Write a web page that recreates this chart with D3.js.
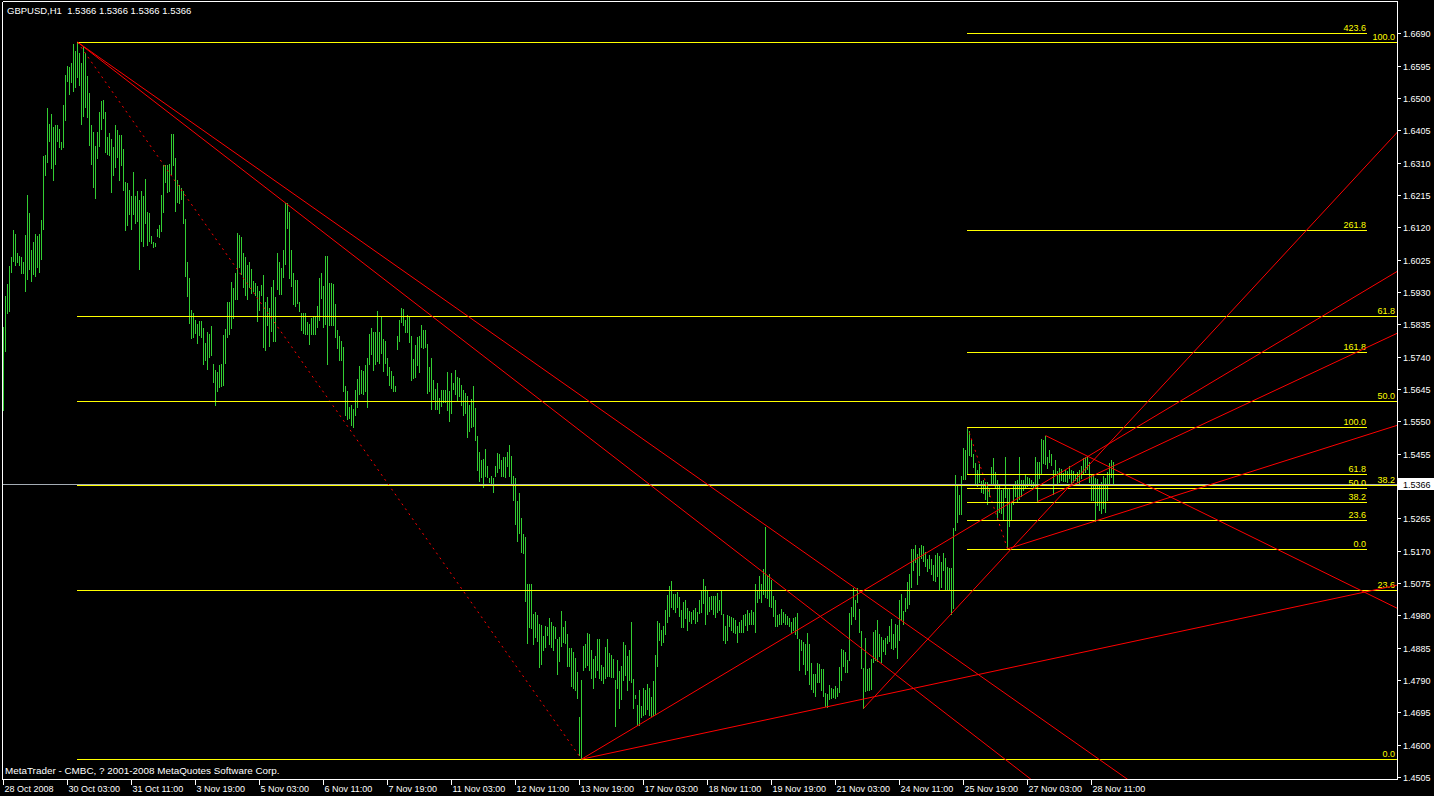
<!DOCTYPE html>
<html><head><meta charset="utf-8">
<script src="https://cdn.jsdelivr.net/npm/d3@7"></script>
<style>html,body{margin:0;padding:0;background:#000;overflow:hidden}</style>
</head><body>
<svg id="c" width="1434" height="796"></svg>
<script>
const symbolTitle = "GBPUSD,H1  1.5366 1.5366 1.5366 1.5366";
const footerText = "MetaTrader - CMBC, ? 2001-2008 MetaQuotes Software Corp.";
const lastPrice = 1.5366;

const highs = [1.5827,1.5918,1.5953,1.6006,1.6033,1.6112,1.6100,1.6045,1.6036,1.6033,1.6018,1.6097,1.6215,1.6162,1.6053,1.6077,1.6100,1.6095,1.6100,1.6142,
1.6330,1.6333,1.6471,1.6424,1.6453,1.6415,1.6421,1.6421,1.6409,1.6371,1.6479,1.6568,1.6594,1.6591,1.6603,1.6660,1.6638,1.6664,1.6632,1.6603,
1.6650,1.6632,1.6565,1.6515,1.6421,1.6400,1.6359,1.6400,1.6459,1.6491,1.6494,1.6459,1.6385,1.6397,1.6380,1.6356,1.6421,1.6406,1.6391,1.6391,
1.6350,1.6253,1.6250,1.6230,1.6212,1.6283,1.6212,1.6227,1.6200,1.6227,1.6212,1.6262,1.6165,1.6162,1.6095,1.6077,1.6074,1.6115,1.6127,1.6215,
1.6303,1.6303,1.6303,1.6306,1.6394,1.6394,1.6324,1.6259,1.6244,1.6236,1.6227,1.6145,1.6018,1.5971,1.5877,1.5868,1.5848,1.5836,1.5845,1.5845,
1.5824,1.5780,1.5812,1.5806,1.5830,1.5718,1.5701,1.5695,1.5715,1.5718,1.5804,1.5821,1.5901,1.5901,1.5959,1.5942,1.5986,1.6103,1.6097,1.6092,
1.6045,1.6033,1.6009,1.6018,1.5998,1.5962,1.5956,1.5948,1.5933,1.5950,1.5980,1.5901,1.5915,1.5883,1.5945,1.5965,1.5915,1.6045,1.6018,1.6001,
1.6052,1.6192,1.6190,1.6165,1.6052,1.5987,1.5965,1.5965,1.5901,1.5868,1.5868,1.5868,1.5843,1.5836,1.5853,1.5858,1.5858,1.5890,1.5971,1.5986,
1.5948,1.6036,1.6036,1.5955,1.5955,1.5953,1.5895,1.5817,1.5802,1.5787,1.5768,1.5654,1.5639,1.5593,1.5598,1.5586,1.5642,1.5675,1.5711,1.5701,
1.5698,1.5714,1.5737,1.5806,1.5824,1.5811,1.5811,1.5873,1.5811,1.5856,1.5792,1.5787,1.5737,1.5709,1.5698,1.5683,1.5654,1.5800,1.5849,1.5882,
1.5880,1.5849,1.5862,1.5858,1.5800,1.5733,1.5774,1.5798,1.5802,1.5833,1.5819,1.5817,1.5778,1.5709,1.5737,1.5672,1.5645,1.5663,1.5618,1.5642,
1.5642,1.5642,1.5695,1.5640,1.5692,1.5663,1.5701,1.5681,1.5677,1.5657,1.5642,1.5632,1.5623,1.5598,1.5614,1.5654,1.5589,1.5507,1.5461,1.5436,
1.5440,1.5469,1.5420,1.5384,1.5388,1.5384,1.5420,1.5457,1.5453,1.5436,1.5444,1.5444,1.5461,1.5480,1.5448,1.5388,1.5384,1.5315,1.5339,1.5267,
1.5218,1.5211,1.5073,1.5073,1.5073,1.4985,1.4990,1.4981,1.4955,1.4950,1.4918,1.4948,1.4944,1.4972,1.4961,1.4948,1.4944,1.4911,1.4916,1.4993,
1.4946,1.4963,1.4924,1.4885,1.4883,1.4871,1.4855,1.4814,1.4681,1.4790,1.4889,1.4895,1.4928,1.4926,1.4877,1.4852,1.4861,1.4910,1.4910,1.4834,
1.4828,1.4887,1.4910,1.4869,1.4863,1.4851,1.4791,1.4849,1.4816,1.4830,1.4900,1.4893,1.4859,1.4877,1.4961,1.4793,1.4746,1.4716,1.4761,1.4714,
1.4767,1.4761,1.4777,1.4765,1.4740,1.4787,1.4863,1.4963,1.4957,1.4936,1.4949,1.4995,1.5039,1.5065,1.5081,1.5043,1.5043,1.5047,1.5034,1.4995,
1.5020,1.5026,1.5002,1.4993,1.4991,1.4995,1.5002,1.4991,1.5024,1.5051,1.5087,1.5065,1.5053,1.5034,1.5036,1.5036,1.5038,1.5045,1.5026,1.5055,
1.4983,1.4948,1.4981,1.4979,1.4975,1.4973,1.4965,1.4948,1.4959,1.4965,1.4981,1.4985,1.4995,1.4987,1.4995,1.4991,1.5071,1.5051,1.5094,1.5071,
1.5116,1.5239,1.5096,1.5100,1.5083,1.5036,1.5024,1.4981,1.4985,1.4998,1.4989,1.4983,1.4977,1.4973,1.4961,1.4973,1.4975,1.4987,1.4910,1.4906,
1.4900,1.4895,1.4928,1.4896,1.4840,1.4807,1.4807,1.4840,1.4836,1.4822,1.4822,1.4752,1.4748,1.4775,1.4767,1.4763,1.4771,1.4767,1.4828,1.4881,
1.4879,1.4871,1.4848,1.4987,1.5004,1.5059,1.5026,1.5059,1.4998,1.4934,1.4824,1.4914,1.4822,1.4824,1.4851,1.4930,1.4936,1.4965,1.4926,1.4916,
1.4906,1.4912,1.4920,1.4948,1.4969,1.4926,1.4955,1.4951,1.5026,1.5043,1.4993,1.5030,1.5077,1.5102,1.5175,1.5175,1.5186,1.5159,1.5178,1.5186,
1.5183,1.5165,1.5145,1.5157,1.5145,1.5128,1.5157,1.5163,1.5153,1.5136,1.5163,1.5149,1.5122,1.5120,1.5118,1.5237,1.5392,1.5366,1.5333,1.5388,
1.5471,1.5466,1.5533,1.5522,1.5494,1.5455,1.5427,1.5408,1.5423,1.5374,1.5376,1.5372,1.5371,1.5355,1.5416,1.5443,1.5400,1.5376,1.5359,1.5347,
1.5353,1.5445,1.5351,1.5355,1.5312,1.5367,1.5375,1.5376,1.5445,1.5376,1.5378,1.5392,1.5386,1.5382,1.5378,1.5372,1.5445,1.5431,1.5429,1.5498,
1.5496,1.5508,1.5445,1.5466,1.5453,1.5408,1.5435,1.5404,1.5412,1.5410,1.5398,1.5406,1.5404,1.5418,1.5408,1.5404,1.5396,1.5400,1.5406,1.5420,
1.5441,1.5445,1.5449,1.5429,1.5396,1.5392,1.5382,1.5380,1.5365,1.5371,1.5388,1.5382,1.5402,1.5427,1.5435,1.5429];

const lows = [1.5583,1.5757,1.5868,1.5874,1.5989,1.6021,1.6009,1.6018,1.6009,1.5986,1.5986,1.5933,1.5968,1.5998,1.5962,1.5983,1.5977,1.6003,1.5989,1.6027,
1.6115,1.6274,1.6312,1.6374,1.6294,1.6259,1.6306,1.6374,1.6356,1.6350,1.6356,1.6435,1.6550,1.6512,1.6547,1.6521,1.6532,1.6562,1.6538,1.6424,
1.6447,1.6474,1.6444,1.6362,1.6306,1.6238,1.6206,1.6324,1.6359,1.6409,1.6441,1.6341,1.6335,1.6333,1.6224,1.6274,1.6297,1.6327,1.6259,1.6303,
1.6230,1.6112,1.6127,1.6159,1.6115,1.6159,1.6133,1.6139,1.5998,1.6080,1.6065,1.6133,1.6068,1.6080,1.6074,1.6062,1.6065,1.6095,1.6092,1.6109,
1.6165,1.6253,1.6224,1.6227,1.6277,1.6303,1.6168,1.6194,1.6192,1.6203,1.6133,1.5977,1.5918,1.5839,1.5795,1.5798,1.5809,1.5780,1.5804,1.5798,
1.5718,1.5730,1.5704,1.5739,1.5745,1.5665,1.5598,1.5639,1.5651,1.5654,1.5657,1.5721,1.5798,1.5806,1.5824,1.5853,1.5909,1.5909,1.6003,1.5983,
1.5945,1.5921,1.5909,1.5945,1.5927,1.5933,1.5921,1.5845,1.5877,1.5921,1.5768,1.5760,1.5833,1.5771,1.5815,1.5786,1.5786,1.5939,1.5924,1.5923,
1.5974,1.6012,1.6118,1.5972,1.5948,1.5895,1.5889,1.5898,1.5874,1.5818,1.5809,1.5806,1.5806,1.5777,1.5806,1.5806,1.5806,1.5826,1.5848,1.5912,
1.5826,1.5836,1.5718,1.5834,1.5834,1.5834,1.5798,1.5765,1.5730,1.5730,1.5640,1.5567,1.5557,1.5561,1.5539,1.5533,1.5569,1.5593,1.5630,1.5632,
1.5630,1.5638,1.5593,1.5718,1.5748,1.5701,1.5718,1.5727,1.5722,1.5751,1.5698,1.5722,1.5687,1.5657,1.5647,1.5638,1.5640,1.5761,1.5787,1.5843,
1.5834,1.5811,1.5812,1.5783,1.5672,1.5677,1.5681,1.5715,1.5695,1.5769,1.5765,1.5767,1.5632,1.5638,1.5586,1.5614,1.5586,1.5586,1.5573,1.5595,
1.5608,1.5606,1.5584,1.5552,1.5573,1.5645,1.5630,1.5610,1.5625,1.5599,1.5567,1.5573,1.5504,1.5522,1.5532,1.5535,1.5494,1.5407,1.5375,1.5386,
1.5356,1.5388,1.5386,1.5371,1.5364,1.5343,1.5388,1.5401,1.5414,1.5388,1.5390,1.5386,1.5418,1.5388,1.5364,1.5319,1.5248,1.5198,1.5222,1.5166,
1.5164,1.5022,1.4897,1.4944,1.4942,1.4895,1.4916,1.4903,1.4828,1.4837,1.4879,1.4888,1.4922,1.4895,1.4888,1.4879,1.4914,1.4808,1.4846,1.4891,
1.4901,1.4898,1.4832,1.4832,1.4771,1.4767,1.4761,1.4736,1.4569,1.4557,1.4820,1.4828,1.4834,1.4820,1.4797,1.4767,1.4799,1.4818,1.4797,1.4789,
1.4781,1.4797,1.4801,1.4801,1.4799,1.4799,1.4655,1.4767,1.4708,1.4734,1.4791,1.4804,1.4759,1.4789,1.4783,1.4708,1.4736,1.4657,1.4657,1.4681,
1.4687,1.4689,1.4705,1.4687,1.4683,1.4687,1.4689,1.4830,1.4908,1.4893,1.4900,1.4926,1.4959,1.4979,1.5004,1.4998,1.4991,1.5004,1.4979,1.4946,
1.4946,1.4973,1.4936,1.4963,1.4957,1.4969,1.4957,1.4963,1.4987,1.4989,1.5016,1.4955,1.4985,1.4993,1.4998,1.4983,1.4975,1.4989,1.4995,1.4983,
1.4908,1.4898,1.4906,1.4948,1.4936,1.4932,1.4928,1.4900,1.4932,1.4932,1.4930,1.4951,1.4936,1.4953,1.4953,1.4955,1.4932,1.5020,1.5030,1.5018,
1.5041,1.5034,1.5030,1.5008,1.5004,1.4977,1.4948,1.4949,1.4953,1.4955,1.4959,1.4953,1.4955,1.4949,1.4930,1.4936,1.4924,1.4912,1.4820,1.4877,
1.4838,1.4806,1.4818,1.4779,1.4763,1.4754,1.4744,1.4783,1.4783,1.4760,1.4744,1.4712,1.4710,1.4734,1.4736,1.4740,1.4736,1.4744,1.4754,1.4791,
1.4832,1.4812,1.4814,1.4848,1.4955,1.4979,1.4969,1.5018,1.4932,1.4824,1.4706,1.4757,1.4761,1.4761,1.4763,1.4842,1.4849,1.4846,1.4859,1.4844,
1.4875,1.4865,1.4899,1.4904,1.4885,1.4881,1.4887,1.4855,1.4906,1.4967,1.4955,1.4993,1.5002,1.5014,1.5063,1.5114,1.5137,1.5073,1.5098,1.5147,
1.5139,1.5124,1.5110,1.5118,1.5102,1.5083,1.5081,1.5096,1.5057,1.5063,1.5112,1.5055,1.5055,1.5055,1.4983,1.5002,1.5231,1.5253,1.5278,1.5277,
1.5380,1.5380,1.5394,1.5451,1.5447,1.5416,1.5367,1.5361,1.5371,1.5341,1.5339,1.5322,1.5306,1.5330,1.5363,1.5369,1.5353,1.5261,1.5282,1.5281,
1.5259,1.5326,1.5175,1.5241,1.5261,1.5306,1.5330,1.5316,1.5322,1.5331,1.5349,1.5355,1.5361,1.5365,1.5359,1.5355,1.5359,1.5314,1.5384,1.5398,
1.5427,1.5424,1.5414,1.5429,1.5422,1.5337,1.5394,1.5365,1.5372,1.5376,1.5374,1.5374,1.5371,1.5382,1.5369,1.5372,1.5378,1.5372,1.5369,1.5382,
1.5394,1.5402,1.5410,1.5371,1.5320,1.5318,1.5257,1.5304,1.5288,1.5281,1.5294,1.5284,1.5320,1.5369,1.5386,1.5366];

const timeLabels = ["28 Oct 2008","30 Oct 03:00","31 Oct 11:00","3 Nov 19:00","5 Nov 03:00","6 Nov 11:00","7 Nov 19:00","11 Nov 03:00","12 Nov 11:00","13 Nov 19:00","17 Nov 03:00","18 Nov 11:00","19 Nov 19:00","21 Nov 03:00","24 Nov 11:00","25 Nov 19:00","27 Nov 03:00","28 Nov 11:00"];
const timeLabelBars = [0,32,64,96,128,160,192,224,256,288,320,352,384,416,448,480,512,544];
const priceTicks = [1.6690,1.6595,1.6500,1.6405,1.6310,1.6215,1.6120,1.6025,1.5930,1.5835,1.5740,1.5645,1.5550,1.5455,1.5265,1.5170,1.5075,1.4980,1.4885,1.4790,1.4695,1.4600,1.4505];

// Fibonacci retracement objects: anchor 1 (100 level), anchor 2 (0 level)
const bigFibA = [37, 1.6664], bigFibB = [289, 1.4557];
const bigFibLevels = [0, 23.6, 38.2, 50, 61.8, 100];
const smallFibA = [482, 1.5533], smallFibB = [502, 1.5175];
const smallFibLevels = [0, 23.6, 38.2, 50, 61.8, 100, 161.8, 261.8, 423.6];
const smallFibEndBar = 681.5;

// Trend lines (rays): [bar, price] -> [bar, price]
const trendStarts = [[37,1.6664],[37,1.6664],[289,1.4557],[289,1.4557],[430,1.4706],[517,1.5314],[502,1.5175],[521,1.5508]];
const trendThrough = [[427,1.5055],[427,1.4892],[427,1.5042],[411,1.4710],[697,1.6400],[697,1.5809],[546,1.5257],[697,1.5000]];

const W = 1434, H = 796;
const plot = {l: 2, t: 2, r: 1397, b: 779};
const svg = d3.select("#c");
svg.append("rect").attr("width", W).attr("height", H).attr("fill", "#000");

const x = d3.scaleLinear().domain([0, 697]).range([3.5, 1397.5]);
const y = d3.scaleLinear().domain([1.4505, 1.6690]).range([776.9, 33.3]);
const FONT = "Liberation Sans, Arial, sans-serif";

svg.append("defs").append("clipPath").attr("id", "clip")
  .append("rect").attr("x", plot.l + 1).attr("y", plot.t + 1)
  .attr("width", plot.r - plot.l - 1).attr("height", plot.b - plot.t - 1);

const g = svg.append("g").attr("clip-path", "url(#clip)");

// bars
g.append("g").selectAll("line").data(highs).join("line")
  .attr("x1", (d, i) => x(i)).attr("x2", (d, i) => x(i))
  .attr("y1", d => Math.round(y(d)))
  .attr("y2", (d, i) => Math.round(y(lows[i])) + 1)
  .attr("stroke", "#32CD32").attr("stroke-width", 1)
  .attr("shape-rendering", "crispEdges");

function hline(sel, x1, x2, yy, color) {
  sel.append("line").attr("x1", x1).attr("x2", x2)
    .attr("y1", Math.round(yy) + 0.5).attr("y2", Math.round(yy) + 0.5)
    .attr("stroke", color).attr("stroke-width", 1).attr("shape-rendering", "crispEdges");
}

// current price line
hline(g, plot.l, plot.r, y(lastPrice), "#A4ACB4");

// fibonacci objects
function fib(A, B, levels, endBar, labelX) {
  const fg = g.append("g");
  fg.append("line")
    .attr("x1", x(A[0])).attr("y1", y(A[1])).attr("x2", x(B[0])).attr("y2", y(B[1]))
    .attr("stroke", "#FF0000").attr("stroke-width", 1).attr("stroke-dasharray", "2,4");
  levels.forEach(lv => {
    const p = B[1] + (A[1] - B[1]) * lv / 100;
    const yy = y(p);
    hline(fg, x(A[0]) - 0.5, x(endBar), yy, "#FFFF00");
    fg.append("text").attr("x", labelX).attr("y", Math.round(yy) - 2)
      .attr("text-anchor", "end").attr("fill", "#FFFF00")
      .attr("font-family", FONT).attr("font-size", "9px")
      .text(lv.toFixed(1));
  });
}
fib(bigFibA, bigFibB, bigFibLevels, 697, 1395);
fib(smallFibA, smallFibB, smallFibLevels, smallFibEndBar, 1366);

// trend lines (rays to the right)
trendStarts.forEach((a, k) => {
  const b = trendThrough[k];
  const endBar = 760;
  const pEnd = a[1] + (b[1] - a[1]) * (endBar - a[0]) / (b[0] - a[0]);
  g.append("line")
    .attr("x1", x(a[0])).attr("y1", y(a[1]))
    .attr("x2", x(endBar)).attr("y2", y(pEnd))
    .attr("stroke", "#FF0000").attr("stroke-width", 1);
});

// frame
const frame = svg.append("g").attr("stroke", "#fff").attr("stroke-width", 1).attr("shape-rendering", "crispEdges");
frame.append("line").attr("x1", plot.l + 0.5).attr("x2", plot.r + 0.5).attr("y1", plot.t - 0.5).attr("y2", plot.t - 0.5);
frame.append("line").attr("x1", plot.l + 0.5).attr("x2", plot.l + 0.5).attr("y1", plot.t - 0.5).attr("y2", plot.b + 0.5);
frame.append("line").attr("x1", plot.r + 0.5).attr("x2", plot.r + 0.5).attr("y1", plot.t - 0.5).attr("y2", plot.b + 0.5);
frame.append("line").attr("x1", plot.l + 0.5).attr("x2", plot.r + 0.5).attr("y1", plot.b + 0.5).attr("y2", plot.b + 0.5);

// price axis
const pa = svg.append("g");
priceTicks.forEach(p => {
  const yy = Math.round(y(p)) + 0.5;
  pa.append("line").attr("x1", plot.r).attr("x2", plot.r + 4).attr("y1", yy).attr("y2", yy)
    .attr("stroke", "#fff").attr("shape-rendering", "crispEdges");
  pa.append("text").attr("x", plot.r + 6).attr("y", yy + 3.2)
    .attr("fill", "#fff").attr("font-family", FONT).attr("font-size", "9px")
    .text(p.toFixed(4));
});
// current price box
const py = Math.round(y(lastPrice));
pa.append("rect").attr("x", plot.r + 1).attr("y", py - 6).attr("width", W - plot.r - 1).attr("height", 12).attr("fill", "#fff");
pa.append("text").attr("x", plot.r + 6).attr("y", py + 3.5)
  .attr("fill", "#000").attr("font-family", FONT).attr("font-size", "9px")
  .text(lastPrice.toFixed(4));

// time axis
const ta = svg.append("g");
timeLabels.forEach((t, k) => {
  const xx = Math.round(x(timeLabelBars[k]) - 0.5) + 0.5;
  ta.append("line").attr("x1", xx).attr("x2", xx).attr("y1", plot.b).attr("y2", plot.b + 6)
    .attr("stroke", "#fff").attr("shape-rendering", "crispEdges");
  ta.append("text").attr("x", xx + 1).attr("y", plot.b + 13)
    .attr("fill", "#fff").attr("font-family", FONT).attr("font-size", "9px").text(t);
});

// texts
svg.append("text").attr("x", 7).attr("y", 14).attr("fill", "#fff")
  .attr("font-family", FONT).attr("font-size", "9.5px").attr("xml:space", "preserve")
  .style("white-space", "pre").text(symbolTitle);
svg.append("text").attr("x", 5).attr("y", 774).attr("fill", "#fff")
  .attr("font-family", FONT).attr("font-size", "9.9px").text(footerText);
</script>
</body></html>
